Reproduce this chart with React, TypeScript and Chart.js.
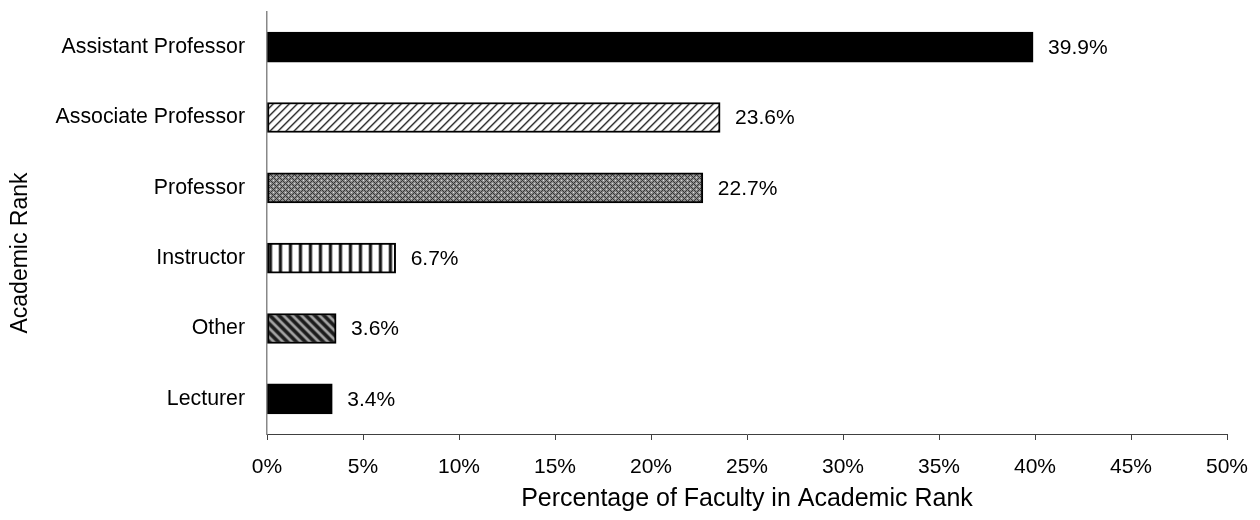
import React, { useEffect, useRef } from "react";
import { Chart, registerables } from "chart.js";

Chart.register(...registerables);

const categories = [
  "Assistant Professor",
  "Associate Professor",
  "Professor",
  "Instructor",
  "Other",
  "Lecturer",
];
const values = [39.9, 23.6, 22.7, 6.7, 3.6, 3.4];
const valueLabels = ["39.9%", "23.6%", "22.7%", "6.7%", "3.6%", "3.4%"];
const patternKinds = ["solid", "diagUp", "cross", "vertical", "diagDown", "solid"];
const xTickMax = 50;
const xTickStep = 5;
const xTitle = "Percentage of Faculty in Academic Rank";
const yTitle = "Academic Rank";

const FONT = "'Liberation Sans', Arial, sans-serif";

function makeTile(size: number, fn: (x: number, y: number) => number): CanvasPattern | string {
  const c = document.createElement("canvas");
  c.width = size;
  c.height = size;
  const ctx = c.getContext("2d")!;
  const img = ctx.createImageData(size, size);
  for (let y = 0; y < size; y++) {
    for (let x = 0; x < size; x++) {
      const v = fn(x, y);
      const i = (y * size + x) * 4;
      img.data[i] = v;
      img.data[i + 1] = v;
      img.data[i + 2] = v;
      img.data[i + 3] = 255;
    }
  }
  ctx.putImageData(img, 0, 0);
  const p = ctx.createPattern(c, "repeat");
  return p || "#888";
}

function makeFill(kind: string): CanvasPattern | string {
  if (kind === "solid") return "#000";
  if (kind === "diagUp") {
    const shades = [50, 130, 230, 255, 255, 255, 255, 170];
    return makeTile(8, (x, y) => shades[(x + y) % 8]);
  }
  if (kind === "diagDown") {
    const shades = [25, 40, 90, 150, 165, 150, 90, 40, 30];
    return makeTile(9, (x, y) => shades[(x - y + 90) % 9]);
  }
  if (kind === "vertical") {
    const shades = [20, 70, 190, 255, 255, 255, 255, 255, 190, 50];
    return makeTile(10, (x) => shades[x % 10]);
  }
  // cross hatch
  return makeTile(6, (x, y) => {
    const a = (x + y) % 6;
    const b = (x - y + 60) % 6;
    if (a === 0 || b === 0) return 55;
    if (a === 3 && b === 3) return 220;
    return 140;
  });
}

export default function App() {
  const ref = useRef<HTMLCanvasElement | null>(null);

  useEffect(() => {
    if (!ref.current) return;
    const fills = patternKinds.map(makeFill);

    const labelPlugin = {
      id: "valueLabels",
      afterDatasetsDraw(chart: any) {
        const ctx = chart.ctx;
        const meta = chart.getDatasetMeta(0);
        ctx.save();
        ctx.font = `21px ${FONT}`;
        ctx.fillStyle = "#000";
        ctx.textAlign = "left";
        ctx.textBaseline = "middle";
        meta.data.forEach((bar: any, i: number) => {
          ctx.fillText(valueLabels[i], bar.x + 15, bar.y + 1);
        });
        ctx.restore();
      },
      afterDraw(chart: any) {
        const ctx = chart.ctx;
        ctx.save();
        ctx.font = `23px ${FONT}`;
        ctx.fillStyle = "#000";
        ctx.textAlign = "center";
        ctx.textBaseline = "alphabetic";
        ctx.translate(27, 253);
        ctx.rotate(-Math.PI / 2);
        ctx.fillText(yTitle, 0, 0);
        ctx.restore();
      },
    };

    const chart = new Chart(ref.current, {
      type: "bar",
      data: {
        labels: categories,
        datasets: [
          {
            data: values,
            backgroundColor: fills as any,
            borderColor: "#000",
            borderWidth: 2,
            borderSkipped: false,
            barThickness: 30,
          },
        ],
      },
      options: {
        indexAxis: "y",
        responsive: false,
        animation: false,
        layout: { padding: { top: 12, right: 33, bottom: 0, left: 0 } },
        plugins: {
          legend: { display: false },
          tooltip: { enabled: false },
        },
        scales: {
          x: {
            min: 0,
            max: xTickMax,
            afterFit: (scale: any) => {
              scale.height = 86;
              scale.paddingLeft = 0;
              scale.paddingRight = 0;
            },
            ticks: {
              stepSize: xTickStep,
              padding: 15,
              color: "#000",
              font: { family: FONT, size: 21 },
              callback: (v: any) => `${v}%`,
            },
            grid: {
              drawOnChartArea: false,
              drawTicks: true,
              tickLength: 6,
              color: "#404040",
            },
            border: { color: "#404040", width: 1 },
            title: {
              display: true,
              text: xTitle,
              color: "#000",
              font: { family: FONT, size: 25, lineHeight: 1 },
              padding: { top: 0, bottom: 8 },
            },
          },
          y: {
            afterFit: (scale: any) => {
              scale.width = 267;
              scale.paddingTop = 0;
              scale.paddingBottom = 0;
            },
            ticks: {
              padding: 22,
              color: "#000",
              font: { family: FONT, size: 21.3 },
            },
            grid: { display: false, drawTicks: false },
            border: { color: "#888", width: 1.5 },
            title: { display: false, text: yTitle },
          },
        },
      },
      plugins: [labelPlugin],
    });

    return () => chart.destroy();
  }, []);

  return (
    <div style={{ width: 1260, height: 520, margin: "-8px", position: "relative" }}>
      <canvas ref={ref} width={1260} height={520} style={{ display: "block" }} />
    </div>
  );
}
